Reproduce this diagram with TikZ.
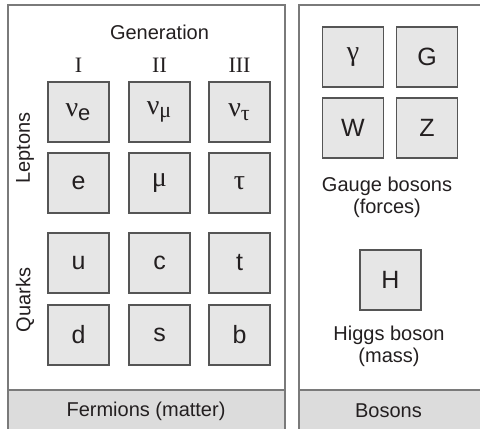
\documentclass[tikz,border=0pt]{standalone}
\usepackage{fontspec}
\setmainfont{Liberation Sans}
\newfontfamily\serifgr{Liberation Serif}
\definecolor{boxfill}{HTML}{E6E6E6}
\definecolor{bandfill}{HTML}{DCDCDC}
\definecolor{edge}{HTML}{555555}
\definecolor{panel}{HTML}{7A7A7A}
\definecolor{ink}{HTML}{231F20}
\newcommand{\grk}[1]{{\serifgr\fontsize{14}{16}\selectfont #1}}
\newcommand{\subgrk}[1]{\textsubscript{\serifgr\fontsize{11}{12}\selectfont #1}}
\begin{document}
\begin{tikzpicture}[x=0.5pt,y=-0.5pt,
  particle/.style={draw=edge,line width=0.6pt,fill=boxfill,minimum width=30.5pt,minimum height=30pt,inner sep=0pt,font=\fontsize{12.5}{14}\selectfont,text=ink},
  lbl/.style={font=\fontsize{10}{10.8}\selectfont,text=ink,align=center,inner sep=0pt},
  roman/.style={font=\serifgr\fontsize{11}{13}\selectfont,text=ink,inner sep=0pt},
  panelbox/.style={draw=panel,line width=1pt,fill=white},
  band/.style={draw=panel,line width=1pt,fill=bandfill}]
\useasboundingbox (0,0) rectangle (480,428);
\begin{scope}
\clip (0,0) rectangle (480,428);
% panels
\path[panelbox] (7.5,4.5) rectangle (285,440);
\path[panelbox] (299,4.5) rectangle (490,440);
\path[band] (7.5,390) rectangle (285,440);
\path[band] (299,390) rectangle (490,440);
\end{scope}
\node[lbl] (fermions) at (146,411) {Fermions (matter)};
\node[lbl] (bosons) at (388.5,411) {Bosons};
% headings
\node[lbl] (gen) at (159.5,32) {Generation};
\node[roman] (g1) at (78.5,65) {I};
\node[roman] (g2) at (159.5,65) {II};
\node[roman] (g3) at (239.5,65) {III};
\node[lbl,rotate=90] (leptons) at (25,148) {Leptons};
\node[lbl,rotate=90] (quarks) at (25,300) {Quarks};
% fermions
\node[particle] (ve) at (78.5,112) {\grk{ν}\textsubscript{\fontsize{11}{12}\selectfont e}};
\node[particle] (vm) at (159.5,112) {\grk{ν}\subgrk{μ}};
\node[particle] (vt) at (239.5,112) {\grk{ν}\subgrk{τ}};
\node[particle] (e) at (78.5,183) {e};
\node[particle] (mu) at (159.5,183) {\grk{μ}};
\node[particle] (tau) at (239.5,183) {\grk{τ}};
\node[particle] (u) at (78.5,263) {u};
\node[particle] (c) at (159.5,263) {c};
\node[particle] (t) at (239.5,263) {t};
\node[particle] (d) at (78.5,335) {d};
\node[particle] (s) at (159.5,335) {s};
\node[particle] (b) at (239.5,335) {b};
% bosons
\node[particle] (gamma) at (353,57) {\grk{γ}};
\node[particle] (G) at (427,57) {G};
\node[particle] (W) at (353,128) {W};
\node[particle] (Z) at (427,128) {Z};
\node[lbl] (gauge) at (387,197.5) {Gauge bosons\\(forces)};
\node[particle] (H) at (390.5,280) {H};
\node[lbl] (higgs) at (389,346.5) {Higgs boson\\(mass)};
\end{tikzpicture}
\end{document}
